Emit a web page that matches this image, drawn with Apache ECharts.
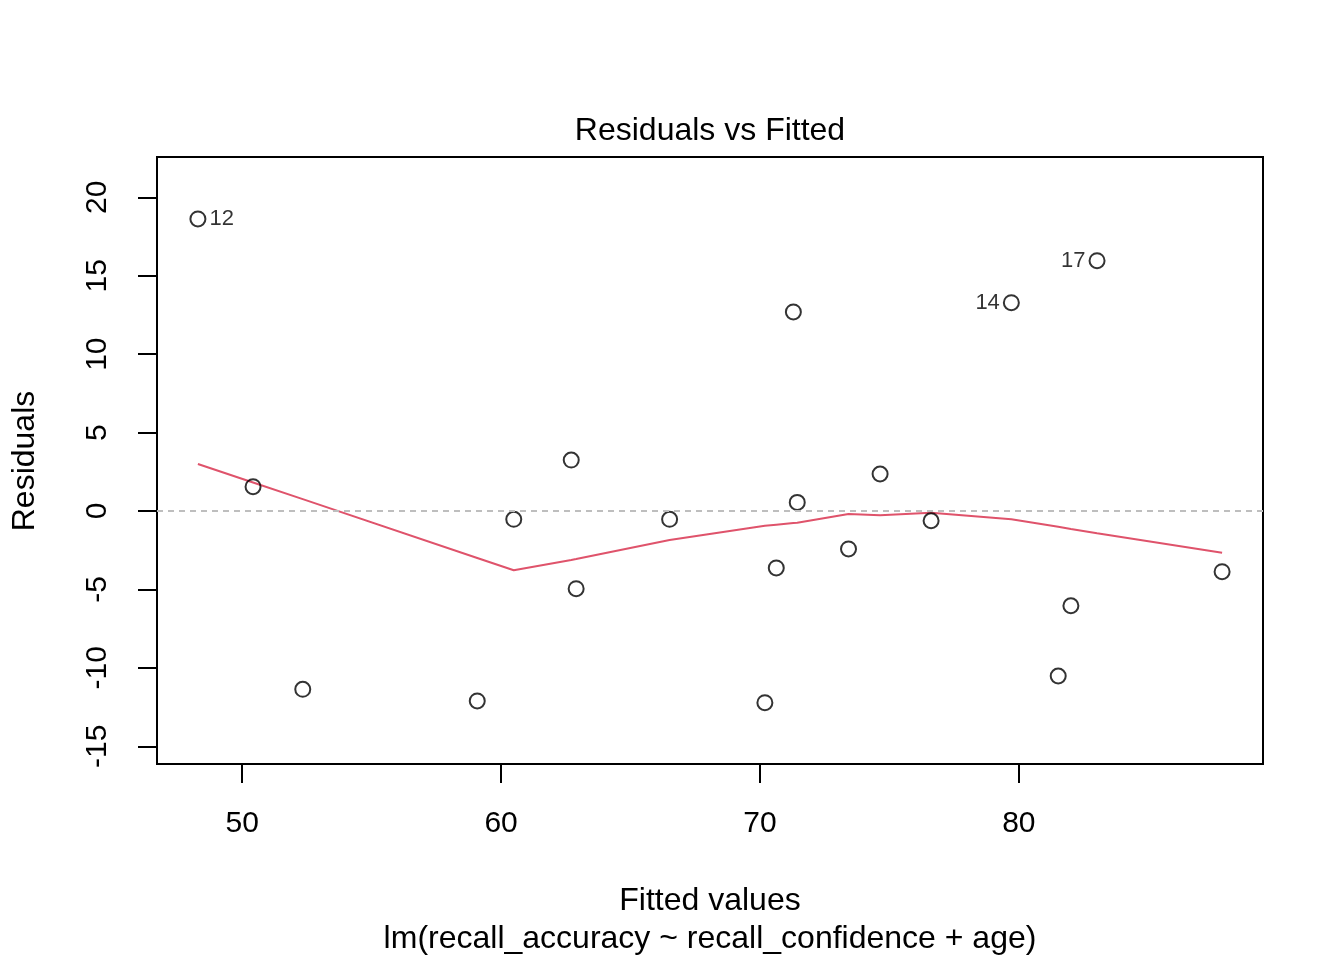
<!DOCTYPE html>
<html>
<head>
<meta charset="utf-8">
<script src="https://cdn.jsdelivr.net/npm/echarts@6/dist/echarts.min.js"></script>
<style>
  html, body { margin: 0; padding: 0; background: #fff; }
  #chart { width: 1344px; height: 960px; }
</style>
</head>
<body>
<div id="chart"></div>
<script>
// fitted values (x) and residuals (y), sorted by fitted value
const fitted = [48.29, 50.42, 52.34, 59.08, 60.49, 62.71, 62.90, 66.51, 70.19, 70.63,
                71.29, 71.44, 73.42, 74.64, 76.61, 79.71, 81.52, 82.01, 83.02, 87.85];
const residuals = [18.62, 1.55, -11.37, -12.11, -0.53, 3.25, -4.95, -0.53, -12.22, -3.63,
                   12.69, 0.55, -2.42, 2.36, -0.62, 13.28, -10.52, -6.04, 15.96, -3.87];
// smoother through the residuals, one value per fitted value
const smooth = [3.00, 1.82, 0.76, -3.00, -3.78, -3.12, -3.06, -1.85, -0.94, -0.87,
                -0.77, -0.75, -0.19, -0.27, -0.11, -0.53, -1.00, -1.15, -1.42, -2.66];
// labelled observations (index into the arrays above)
const labelIdx = [0, 15, 18];
const labelText = ['12', '14', '17'];

const xTicks = [50, 60, 70, 80];
const yTicks = [-15, -10, -5, 0, 5, 10, 15, 20];

const font = 'Liberation Sans, Arial, Helvetica, sans-serif';

const points = fitted.map((x, i) => {
  const k = labelIdx.indexOf(i);
  const item = { value: [x, residuals[i]] };
  if (k >= 0) {
    item.label = {
      show: true,
      formatter: labelText[k],
      position: k === 0 ? 'right' : 'left',
      distance: 3,
      fontSize: 22,
      color: '#000',
      fontFamily: font
    };
  }
  return item;
});

// centre of the plotting box
const midX = 710, midY = 461;
function caption(text, x, y, rot) {
  return {
    type: 'text', x: x, y: y, rotation: rot || 0,
    style: { text: text, fill: '#000', font: '32px ' + font, textAlign: 'center', textVerticalAlign: 'middle' }
  };
}

const chart = echarts.init(document.getElementById('chart'));
chart.setOption({
  backgroundColor: '#fff',
  animation: false,
  textStyle: { fontFamily: font, color: '#000' },
  graphic: [
    caption('Residuals vs Fitted', midX, 131),
    caption('Fitted values', midX, 901),
    caption('lm(recall_accuracy ~ recall_confidence + age)', midX, 939),
    caption('Residuals', 25, midY, Math.PI / 2)
  ],
  grid: {
    left: 157, right: 81, top: 157, bottom: 196,
    show: true, borderColor: '#000', borderWidth: 2, backgroundColor: 'transparent'
  },
  xAxis: {
    type: 'value', min: 46.71, max: 89.43,
    axisLine: { show: false, onZero: false },
    splitLine: { show: false },
    axisTick: { show: true, customValues: xTicks, length: 19, lineStyle: { color: '#000', width: 2 } },
    axisLabel: { customValues: xTicks, fontSize: 30, margin: 45, color: '#000', fontFamily: font }
  },
  yAxis: {
    type: 'value', min: -16.13, max: 22.57,
    axisLine: { show: false, onZero: false },
    splitLine: { show: false },
    axisTick: { show: true, customValues: yTicks, length: 19, lineStyle: { color: '#000', width: 2 } },
    axisLabel: { customValues: yTicks, rotate: 90, fontSize: 30, margin: 44, color: '#000', fontFamily: font }
  },
  series: [
    {
      type: 'line',
      data: fitted.map((x, i) => [x, smooth[i]]),
      showSymbol: false,
      lineStyle: { color: '#DF536B', width: 2 },
      z: 2,
      markLine: {
        silent: true,
        symbol: 'none',
        label: { show: false },
        lineStyle: { color: '#bebebe', width: 2, type: [6, 5] },
        data: [{ yAxis: 0 }]
      }
    },
    {
      type: 'scatter',
      data: points,
      symbol: 'circle',
      symbolSize: 15,
      itemStyle: { color: 'rgba(0,0,0,0)', borderColor: '#000', borderWidth: 2 },
      z: 3
    }
  ]
});
</script>
</body>
</html>
